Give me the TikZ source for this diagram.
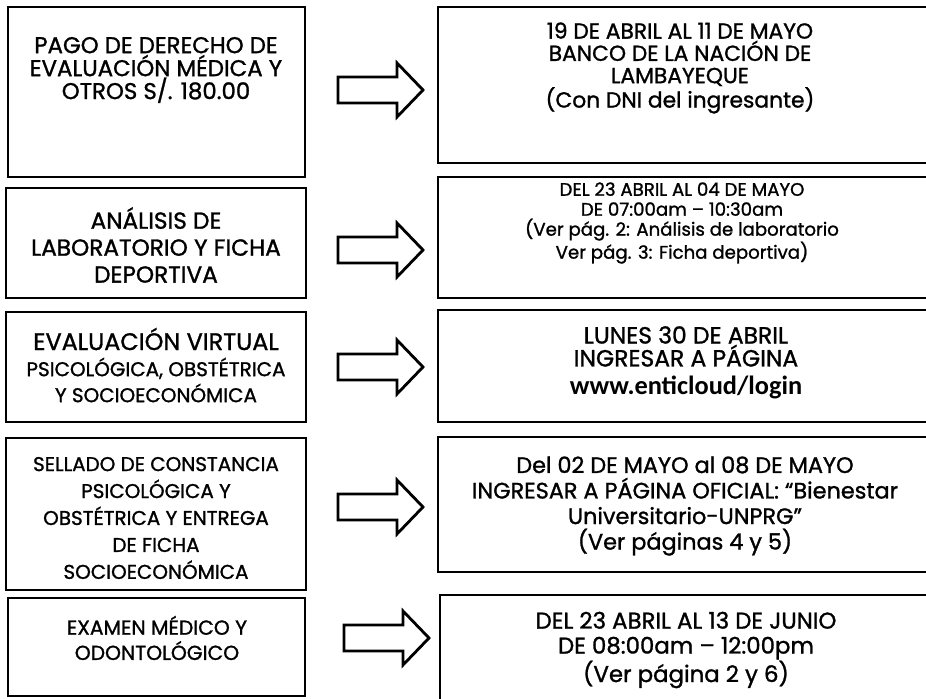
\documentclass[tikz,border=0pt]{standalone}
\usepackage{fontspec}
\setmainfont{Poppins}[FakeBold=1.2]
\newfontfamily\urlfont{Carlito}
\usetikzlibrary{positioning}

\tikzset{
  box/.style={line width=2.5pt},
  blockarrow/.style={line width=2.4pt, line join=miter},
  txt/.style={align=center, inner sep=0pt},
}

\begin{document}
\begin{tikzpicture}[x=0.03cm, y=-0.03cm]
\useasboundingbox (0,0) rectangle (926,698);
% left column
\draw[box] (8,7) rectangle (305,177);
\draw[box] (6,188) rectangle (306,298);
\draw[box] (6,312) rectangle (306,422);
\draw[box] (6,438) rectangle (306,590);
\draw[box] (8,598) rectangle (305,696);
\node[txt, font=\fontsize{19.5}{19.6}\selectfont] (pago) at (156,70) {PAGO DE DERECHO DE\\EVALUACIÓN MÉDICA Y\\OTROS S/. 180.00};
\node[txt, font=\fontsize{19.8}{23}\selectfont] (analisis) at (156,245) {ANÁLISIS DE\\LABORATORIO Y FICHA\\DEPORTIVA};
\node[txt, font=\fontsize{20.4}{23}\selectfont] (virtual) at (156,339) {EVALUACIÓN VIRTUAL};
\node[txt, font=\fontsize{17}{22.2}\selectfont] (psico) at (156,380) {PSICOLÓGICA, OBSTÉTRICA\\Y SOCIOECONÓMICA};
\node[txt, font=\fontsize{17}{23}\selectfont] (sellado) at (156,518) {SELLADO DE CONSTANCIA\\PSICOLÓGICA Y\\OBSTÉTRICA Y ENTREGA\\DE FICHA\\SOCIOECONÓMICA};
\node[txt, font=\fontsize{17.3}{21.5}\selectfont] (examen) at (157,638) {EXAMEN MÉDICO Y\\ODONTOLÓGICO};
% right column
\draw[box] (438,7) rectangle (940,163);
\draw[box] (438,177) rectangle (940,298);
\draw[box] (438,310) rectangle (940,422);
\draw[box] (438,437) rectangle (940,572);
\draw[box] (440,595) rectangle (940,720);
\node[txt, font=\fontsize{18.6}{19}\selectfont] (banco) at (680,68) {19 DE ABRIL AL 11 DE MAYO\\BANCO DE LA NACIÓN DE\\LAMBAYEQUE\\(Con DNI del ingresante)};
\node[txt, font=\fontsize{15.5}{17}\selectfont] (lab) at (682,223) {DEL 23 ABRIL AL 04 DE MAYO\\DE 07:00am -- 10:30am\\(Ver pág. 2: Análisis de laboratorio\\Ver pág. 3: Ficha deportiva)};
\node[txt, font=\fontsize{20}{19.6}\selectfont, anchor=north] (lunes) at (686,326) {LUNES 30 DE ABRIL\\INGRESAR A PÁGINA\\[4pt]{\urlfont\bfseries\fontsize{22.5}{20}\selectfont www.enticloud/login}};
\node[txt, font=\fontsize{19.1}{21.8}\selectfont] (sello) at (685,506) {Del 02 DE MAYO al 08 DE MAYO\\INGRESAR A PÁGINA OFICIAL: “Bienestar\\Universitario-UNPRG”\\(Ver páginas 4 y 5)};
\node[txt, font=\fontsize{19.5}{21.3}\selectfont] (medico) at (686,650) {DEL 23 ABRIL AL 13 DE JUNIO\\DE 08:00am -- 12:00pm\\(Ver página 2 y 6)};
% arrows
\foreach \y/\dx in {90/0, 250/0, 367/0, 507/0, 638/6}
  \draw[blockarrow] (338+\dx,\y-13) -- (397+\dx,\y-13) -- (397+\dx,\y-27)
    -- (423+\dx,\y) -- (397+\dx,\y+27) -- (397+\dx,\y+13) -- (338+\dx,\y+13) -- cycle;
\end{tikzpicture}
\end{document}
